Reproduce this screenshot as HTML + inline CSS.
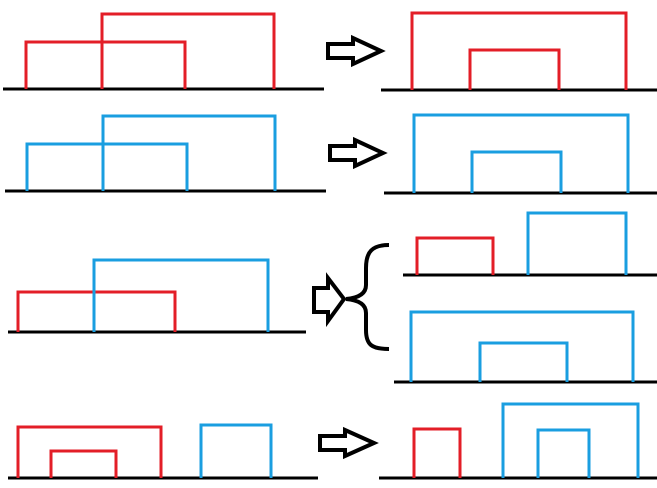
<!DOCTYPE html>
<html><head><meta charset="utf-8"><style>html,body{margin:0;padding:0;background:#fff}svg{display:block}</style></head>
<body>
<svg width="657" height="488" viewBox="0 0 657 488" xmlns="http://www.w3.org/2000/svg">
<g fill="none" stroke-linejoin="miter">
<g stroke="#000" stroke-width="3">
<line x1="3" y1="89" x2="324" y2="89"/>
<line x1="381" y1="90" x2="657" y2="90"/>
<line x1="5" y1="191" x2="326" y2="191"/>
<line x1="384" y1="193" x2="657" y2="193"/>
<line x1="8" y1="332" x2="306" y2="332"/>
<line x1="403" y1="275" x2="657" y2="275"/>
<line x1="394" y1="382" x2="657" y2="382"/>
<line x1="8" y1="478" x2="318" y2="478"/>
<line x1="379" y1="478" x2="657" y2="478"/>
</g>
<g stroke="#e31e27" stroke-width="3">
<polyline points="102,89 102,14 274,14 274,89"/>
<polyline points="26,89 26,42 185,42 185,89"/>
<polyline points="412,90 412,13 626,13 626,90"/>
<polyline points="470,90 470,50 559,50 559,90"/>
<polyline points="18,332 18,292 175,292 175,332"/>
<polyline points="417,275 417,238 493,238 493,275"/>
<polyline points="18,478 18,427 161,427 161,478"/>
<polyline points="51,478 51,451 116,451 116,478"/>
<polyline points="414,478 414,429 460,429 460,478"/>
</g>
<g stroke="#1a9ee0" stroke-width="3">
<polyline points="103,191 103,116 275,116 275,191"/>
<polyline points="27,191 27,144 187,144 187,191"/>
<polyline points="414,193 414,115 628,115 628,193"/>
<polyline points="472,193 472,152 561,152 561,193"/>
<polyline points="94,332 94,260 268,260 268,332"/>
<polyline points="528,275 528,213 626,213 626,275"/>
<polyline points="411,382 411,312 633,312 633,382"/>
<polyline points="480,382 480,343 567,343 567,382"/>
<polyline points="201,478 201,425 271,425 271,478"/>
<polyline points="503,478 503,404 638,404 638,478"/>
<polyline points="538,478 538,430 589,430 589,478"/>
</g>
<g stroke="#000" stroke-width="4" fill="#fff">
<polygon points="328,44 353,44 353,38 381,51 353,64 353,58 328,58"/>
<polygon points="330,146 355,146 355,140 383,153 355,166 355,160 330,160"/>
<polygon points="314,288 328,288 328,278 344,299 328,321 328,312 314,312"/>
<polygon points="320,436 345,436 345,430 374,443 345,456 345,450 320,450"/>
</g>
<path d="M389,245 C372,245 366,252 366,268 L366,285 C366,294 358,298 346,299 C358,300 366,304 366,313 L366,330 C366,345 372,349 389,349" stroke="#000" stroke-width="4"/>
</g>
</svg>
</body></html>
